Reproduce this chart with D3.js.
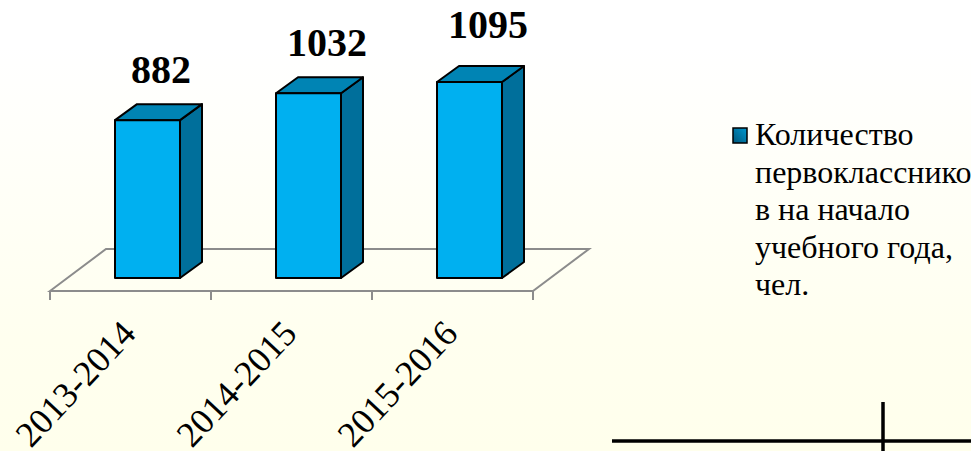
<!DOCTYPE html>
<html>
<head>
<meta charset="utf-8">
<script src="https://d3js.org/d3.v7.min.js"></script>
<style>
html, body { margin: 0; padding: 0; overflow: hidden; }
body { background: #fff; }
svg { display: block; }
text { font-family: "Liberation Serif", "Times New Roman", serif; }
</style>
</head>
<body>
<script>
// values
var categories = ['2013-2014', '2014-2015', '2015-2016'];
var values = [882, 1032, 1095];
var legendLines = ['Количество', 'первокласснико', 'в на начало', 'учебного года,', 'чел.'];

var width = 971, height = 451;

var svg = d3.select("body").append("svg")
	.attr("width", width)
	.attr("height", height);

// page background, white fading to pale yellow
var grad = svg.append("defs").append("linearGradient")
	.attr("id", "bg")
	.attr("x1", 0).attr("y1", 0).attr("x2", 0).attr("y2", 1);
grad.append("stop").attr("offset", "0.1").attr("stop-color", "#ffffff");
grad.append("stop").attr("offset", "0.75").attr("stop-color", "#ffffef");
grad.append("stop").attr("offset", "1").attr("stop-color", "#ffffec");

var keyGrad = svg.select("defs").append("linearGradient")
	.attr("id", "key")
	.attr("x1", 0).attr("y1", 1).attr("x2", 1).attr("y2", 0);
keyGrad.append("stop").attr("offset", "0").attr("stop-color", "#00567a");
keyGrad.append("stop").attr("offset", "1").attr("stop-color", "#0098d0");

svg.append("rect")
	.attr("width", width)
	.attr("height", height)
	.attr("fill", "url(#bg)");

// scales
var x = d3.scaleBand().domain(categories).range([50, 533]);
var y = d3.scaleLinear().domain([0, 1095]).range([278, 82]);

// 3d depth of the box and the floor
var depthX = 22, depthY = 16;
var floorX = 56, floorY = 42;
var floorFront = 291;
var barWidth = 65;
var barShift = 65;

// the value labels were dragged by hand in the original
var labelNudgeX = [46, 51, 51];
var labelNudgeY = [-37, -37, -44];

// floor
var x0 = x.range()[0], x1 = x.range()[1];
svg.append("path")
	.attr("d", "M" + x0 + "," + floorFront + "L" + (x0 + floorX) + "," + (floorFront - floorY) +
		"L" + (x1 + floorX) + "," + (floorFront - floorY) + "L" + x1 + "," + floorFront + "Z")
	.attr("fill", "none")
	.attr("stroke", "#8c8c8c")
	.attr("stroke-width", 2);

// ticks sit on the band edges
var edges = categories.map(function(d) { return x(d); }).concat([x1]);
svg.selectAll(".tick")
	.data(edges)
	.enter()
	.append("line")
	.attr("class", "tick")
	.attr("x1", function(d) { return d; })
	.attr("x2", function(d) { return d; })
	.attr("y1", floorFront)
	.attr("y2", floorFront + 9)
	.attr("stroke", "#8c8c8c")
	.attr("stroke-width", 2);

// bars
var bars = svg.selectAll(".bar")
	.data(values)
	.enter()
	.append("g")
	.attr("class", "bar")
	.attr("transform", function(d, i) { return "translate(" + (x(categories[i]) + barShift) + ",0)"; })
	.attr("stroke", "#000")
	.attr("stroke-width", 2)
	.attr("stroke-linejoin", "round");

// side
bars.append("path")
	.attr("fill", "#006f9b")
	.attr("d", function(d) {
		return "M" + barWidth + "," + y(d) + "l" + depthX + "," + (-depthY) +
			"V" + (y(0) - depthY) + "L" + barWidth + "," + y(0) + "Z";
	});

// top
bars.append("path")
	.attr("fill", "#0084b4")
	.attr("d", function(d) {
		return "M0," + y(d) + "l" + depthX + "," + (-depthY) + "h" + barWidth +
			"l" + (-depthX) + "," + depthY + "Z";
	});

// front
bars.append("rect")
	.attr("fill", "#00b0f0")
	.attr("x", 0)
	.attr("y", function(d) { return y(d); })
	.attr("width", barWidth)
	.attr("height", function(d) { return y(0) - y(d); });

// value labels
svg.selectAll(".value")
	.data(values)
	.enter()
	.append("text")
	.attr("class", "value")
	.attr("x", function(d, i) { return x(categories[i]) + barShift + labelNudgeX[i]; })
	.attr("y", function(d, i) { return y(d) + labelNudgeY[i]; })
	.attr("text-anchor", "middle")
	.style("font-size", "40px")
	.style("font-weight", "bold")
	.text(function(d) { return d; });

// category labels
svg.selectAll(".cat")
	.data(categories)
	.enter()
	.append("text")
	.attr("class", "cat")
	.attr("transform", function(d) {
		return "translate(" + (x(d) + x.bandwidth() / 2 + 7) + ",335) rotate(-47)";
	})
	.attr("text-anchor", "end")
	.style("font-size", "36px")
	.text(function(d) { return d; });

// legend
svg.append("rect")
	.attr("x", 733)
	.attr("y", 128)
	.attr("width", 14)
	.attr("height", 15)
	.attr("fill", "url(#key)")
	.attr("stroke", "#000")
	.attr("stroke-width", 1.5);

svg.selectAll(".legend")
	.data(legendLines)
	.enter()
	.append("text")
	.attr("class", "legend")
	.attr("x", 755)
	.attr("y", function(d, i) { return 145 + i * 37.5; })
	.style("font-size", "32px")
	.text(function(d) { return d; });

// black rule at the bottom right
svg.append("line")
	.attr("x1", 612).attr("x2", width)
	.attr("y1", 441).attr("y2", 441)
	.attr("stroke", "#000").attr("stroke-width", 3.5);
svg.append("line")
	.attr("x1", 883).attr("x2", 883)
	.attr("y1", 402).attr("y2", height)
	.attr("stroke", "#000").attr("stroke-width", 3.5);
</script>
</body>
</html>
